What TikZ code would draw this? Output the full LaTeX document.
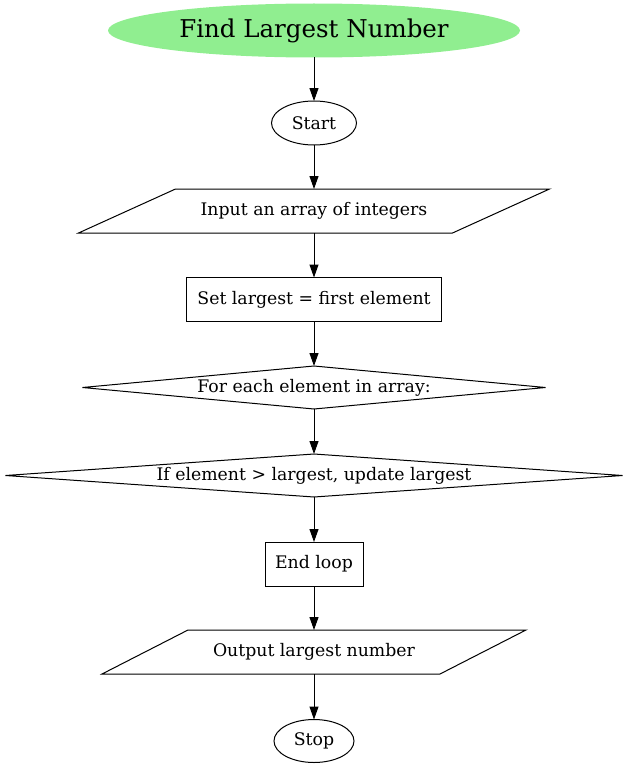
\documentclass[tikz,border=0pt]{standalone}
\usepackage{fontspec}
\setmainfont{DejaVu Serif}
\usetikzlibrary{shapes.geometric,arrows.meta,calc}
\definecolor{titlegreen}{HTML}{90EE90}
\begin{document}
\begin{tikzpicture}[x=1pt,y=-1pt,
  every node/.style={inner sep=0pt,outer sep=0pt,font=\fontsize{17.3}{20}\selectfont},
  lbl/.style={draw=none},
  ell/.style={ellipse,draw,line width=1pt},
  box/.style={rectangle,draw,line width=1pt},
  edge/.style={line width=1pt,-{Triangle[length=13pt,width=9pt]}},
  outline/.style={line width=1pt}]
\useasboundingbox (0,0) rectangle (627,768);
\node[ellipse,fill=titlegreen,minimum width=412pt,minimum height=54pt,font=\fontsize{24.5}{28}\selectfont] (title) at (314,30.5) {Find Largest Number};
\node[ell,minimum width=85pt,minimum height=44pt] (start) at (314,123) {Start};
\node[lbl,minimum width=471pt,minimum height=44pt] (input) at (314,211) {Input an array of integers};
\draw[outline] ($(input.north west)+(97,0)$) -- (input.north east) -- ($(input.south east)-(97,0)$) -- (input.south west) -- cycle;
\node[box,minimum width=255pt,minimum height=44pt] (set) at (314,299.5) {Set largest = first element};
\node[lbl,minimum width=463pt,minimum height=43pt] (foreach) at (314,387.5) {For each element in array:};
\draw[outline] (foreach.west) -- (foreach.north) -- (foreach.east) -- (foreach.south) -- cycle;
\node[lbl,minimum width=617pt,minimum height=43pt] (if) at (314,475.5) {If element > largest, update largest};
\draw[outline] (if.west) -- (if.north) -- (if.east) -- (if.south) -- cycle;
\node[box,minimum width=98pt,minimum height=44pt] (endloop) at (314,564) {End loop};
\node[lbl,minimum width=424pt,minimum height=44pt] (output) at (314,652) {Output largest number};
\draw[outline] ($(output.north west)+(86,0)$) -- (output.north east) -- ($(output.south east)-(86,0)$) -- (output.south west) -- cycle;
\node[ell,minimum width=80pt,minimum height=43pt] (stop) at (314,741) {Stop};
\draw[edge] (title.south) -- (start.north);
\draw[edge] (start.south) -- (input.north);
\draw[edge] (input.south) -- (set.north);
\draw[edge] (set.south) -- (foreach.north);
\draw[edge] (foreach.south) -- (if.north);
\draw[edge] (if.south) -- (endloop.north);
\draw[edge] (endloop.south) -- (output.north);
\draw[edge] (output.south) -- (stop.north);
\end{tikzpicture}
\end{document}
